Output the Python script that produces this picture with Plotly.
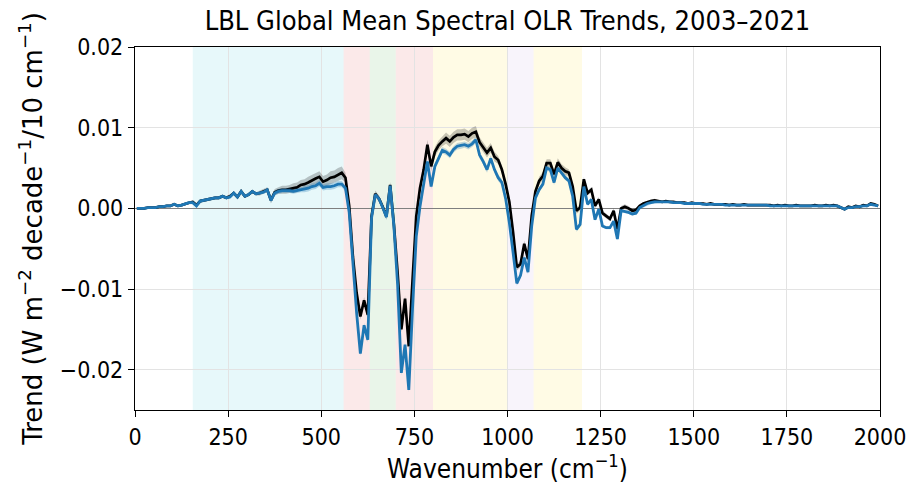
import numpy as np
import plotly.graph_objects as go

# Spectral bin centres (10 cm^-1 bins)
wavenumber = np.arange(5, 2000, 10)

# Global mean OLR trend per bin, in units of 1e-4 W m-2 decade-1 / 10 cm-1
total_trend = [
    0, 0, 0, 1, 1, 1, 2, 2, 3, 3,
    5, 3, 4, 6, 7, 8, 4, 9, 10, 11,
    12, 13, 13, 15, 13, 15, 19, 14, 21, 15,
    17, 21, 18, 19, 21, 23, 10, 20, 22, 23,
    23, 24, 25, 26, 29, 30, 32, 34, 37, 39,
    33, 35, 38, 39, 42, 44, 38, 3, -60, -105,
    -134, -114, -132, -10, 18, 12, 2, -10, 29, -20,
    -80, -150, -112, -171, -90, -10, 25, 48, 79, 52,
    70, 78, 83, 87, 83, 88, 91, 91, 92, 89,
    93, 95, 82, 76, 69, 75, 64, 60, 48, 30,
    8, -30, -73, -69, -44, -63, -9, 21, 34, 40,
    56, 56, 42, 57, 50, 46, 44, 27, -3, 1,
    36, 19, 23, 3, 11, -6, -10, -13, -3, -26,
    0, 2, 0, -3, -2, 3, 6, 8, 9, 10,
    9, 8, 9, 8, 8, 7, 7, 7, 6, 7,
    6, 6, 6, 5, 6, 5, 5, 5, 5, 4,
    5, 4, 4, 5, 4, 4, 4, 4, 4, 4,
    4, 3, 4, 3, 4, 3, 3, 4, 3, 3,
    3, 3, 4, 3, 3, 4, 3, 4, 3, 1,
    -1, 2, 1, 3, 2, 4, 3, 6, 5, 3,
]

second_trend = [
    0, 0, 0, 1, 1, 1, 2, 2, 3, 3,
    5, 3, 4, 6, 7, 7, 3, 9, 10, 11,
    12, 13, 13, 15, 13, 14, 19, 14, 21, 15,
    17, 21, 18, 19, 20, 23, 10, 19, 21, 22,
    22, 22, 21, 22, 23, 24, 25, 27, 28, 31,
    26, 27, 27, 28, 30, 30, 25, -5, -72, -130,
    -180, -145, -163, -12, 17, 12, 1, -11, 28, -22,
    -95, -204, -169, -225, -125, -35, 2, 32, 58, 27,
    52, 62, 72, 70, 66, 73, 77, 78, 79, 77,
    80, 85, 66, 58, 48, 62, 48, 38, 32, 12,
    -18, -55, -93, -83, -61, -79, -22, 13, 23, 30,
    50, 48, 32, 50, 44, 38, 34, 15, -26, -20,
    27, 5, 11, -14, -1, -22, -24, -24, -16, -38,
    -3, -4, -5, -7, -6, 1, 3, 6, 7, 8,
    8, 8, 8, 8, 7, 7, 7, 6, 6, 6,
    6, 6, 5, 5, 5, 5, 5, 5, 4, 4,
    4, 4, 4, 4, 4, 4, 4, 4, 4, 4,
    3, 3, 3, 3, 3, 3, 3, 3, 3, 3,
    3, 3, 3, 3, 3, 3, 3, 3, 3, 1,
    -1, 1, 1, 2, 2, 3, 3, 5, 4, 3,
]

# Half-width of the uncertainty range, same units
total_unc = [
    1, 1, 1, 1, 1, 1, 1, 1, 1, 1,
    1, 1, 1, 1, 2, 2, 2, 2, 2, 2,
    2, 2, 2, 2, 2, 2, 2, 2, 2, 2,
    2, 2, 2, 3, 3, 3, 4, 4, 4, 5,
    5, 5, 6, 6, 6, 6, 7, 7, 7, 7,
    7, 7, 8, 8, 8, 8, 6, 4, 4, 4,
    4, 4, 4, 4, 4, 4, 4, 4, 4, 4,
    4, 4, 4, 4, 4, 4, 5, 5, 6, 6,
    6, 6, 6, 7, 7, 7, 7, 7, 7, 7,
    7, 7, 6, 6, 6, 6, 6, 5, 5, 5,
    4, 4, 4, 4, 4, 4, 4, 4, 5, 5,
    5, 5, 5, 5, 5, 5, 4, 4, 4, 4,
    3, 3, 3, 3, 3, 3, 3, 3, 3, 3,
    3, 3, 3, 2, 2, 2, 2, 2, 2, 2,
    1, 1, 1, 1, 1, 1, 1, 1, 1, 1,
    1, 1, 1, 1, 1, 1, 1, 1, 1, 1,
    1, 1, 1, 1, 1, 1, 1, 1, 1, 1,
    1, 1, 1, 1, 1, 1, 1, 1, 1, 1,
    1, 1, 1, 1, 1, 1, 1, 1, 1, 1,
    1, 1, 1, 1, 1, 1, 1, 1, 1, 1,
]

second_unc = [
    1, 1, 1, 1, 1, 1, 1, 1, 1, 1,
    2, 2, 2, 2, 2, 2, 2, 2, 2, 2,
    2, 2, 2, 2, 2, 2, 2, 2, 2, 2,
    2, 2, 2, 2, 2, 2, 3, 3, 3, 3,
    3, 3, 3, 3, 3, 4, 4, 4, 4, 4,
    4, 4, 4, 4, 4, 4, 4, 3, 3, 3,
    3, 3, 3, 3, 3, 3, 3, 3, 3, 3,
    3, 3, 3, 3, 3, 3, 3, 3, 3, 3,
    4, 4, 4, 4, 4, 4, 4, 4, 4, 4,
    4, 4, 4, 4, 4, 4, 4, 4, 4, 4,
    3, 3, 3, 3, 3, 3, 3, 3, 3, 3,
    3, 3, 3, 3, 3, 3, 3, 3, 3, 3,
    2, 2, 2, 2, 2, 2, 2, 2, 2, 2,
    2, 2, 2, 2, 2, 2, 2, 2, 2, 2,
    1, 1, 1, 1, 1, 1, 1, 1, 1, 1,
    1, 1, 1, 1, 1, 1, 1, 1, 1, 1,
    1, 1, 1, 1, 1, 1, 1, 1, 1, 1,
    1, 1, 1, 1, 1, 1, 1, 1, 1, 1,
    1, 1, 1, 1, 1, 1, 1, 1, 1, 1,
    1, 1, 1, 1, 1, 1, 1, 1, 1, 1,
]

# Absorption-band regions (cm^-1) and their tint
band_edges = [(155, 560), (560, 630), (630, 700), (700, 800),
              (800, 1000), (1000, 1070), (1070, 1200)]
band_colors = ["rgba(23,190,207,0.10)", "rgba(214,39,40,0.10)",
               "rgba(44,160,44,0.10)", "rgba(214,39,40,0.10)",
               "rgba(255,215,0,0.10)", "rgba(160,110,210,0.08)",
               "rgba(255,215,0,0.10)"]

x_ticks = [0, 250, 500, 750, 1000, 1250, 1500, 1750, 2000]
y_ticks = [-0.02, -0.01, 0.0, 0.01, 0.02]

scale = 1e-4
tot = np.array(total_trend) * scale
sec = np.array(second_trend) * scale
tot_u = np.array(total_unc) * scale
sec_u = np.array(second_unc) * scale

fig = go.Figure()


def add_band(y_lo, y_hi, color):
    fig.add_trace(go.Scatter(x=wavenumber, y=y_hi, mode="lines",
                             line=dict(width=0), hoverinfo="skip",
                             showlegend=False))
    fig.add_trace(go.Scatter(x=wavenumber, y=y_lo, mode="lines",
                             line=dict(width=0), fill="tonexty",
                             fillcolor=color, hoverinfo="skip",
                             showlegend=False))


add_band(tot - tot_u, tot + tot_u, "rgba(0,0,0,0.22)")
fig.add_trace(go.Scatter(x=wavenumber, y=tot, mode="lines",
                         line=dict(color="black", width=2.7),
                         showlegend=False))
add_band(sec - sec_u, sec + sec_u, "rgba(31,119,180,0.28)")
fig.add_trace(go.Scatter(x=wavenumber, y=sec, mode="lines",
                         line=dict(color="#1f77b4", width=2.8),
                         showlegend=False))

for (b0, b1), col in zip(band_edges, band_colors):
    fig.add_shape(type="rect", xref="x", yref="paper", x0=b0, x1=b1,
                  y0=0, y1=1, fillcolor=col, line=dict(width=0),
                  layer="below")

narrow = "DejaVu Sans Condensed, DejaVu Sans"

axis_common = dict(showline=True, linecolor="black", linewidth=1.3,
                   mirror=True, ticks="outside", ticklen=6, tickwidth=1.3,
                   tickcolor="black", showgrid=True, gridcolor="#e3e3e3",
                   gridwidth=1,
                   tickfont=dict(size=23, color="black", family=narrow))

fig.update_layout(
    width=918, height=486,
    margin=dict(l=135, r=34, t=47, b=74),
    paper_bgcolor="white", plot_bgcolor="white",
    font=dict(family="DejaVu Sans", color="black"),
    title=dict(text="LBL Global Mean Spectral OLR Trends, 2003\u20132021",
               x=0.5, xref="paper", xanchor="center",
               y=1 - 21 / 486, yref="container", yanchor="middle",
               font=dict(size=27, family=narrow)),
    xaxis=dict(range=[0, 2000], tickvals=x_ticks,
               title=dict(text="Wavenumber (cm<sup>\u22121</sup>)",
                          font=dict(size=26, family=narrow), standoff=6),
               zeroline=False, **axis_common),
    yaxis=dict(range=[-0.025, 0.02], tickvals=y_ticks, tickformat=".2f",
               title=dict(text="Trend (W m<sup>\u22122</sup> decade<sup>\u22121</sup>/10 cm<sup>\u22121</sup>)",
                          font=dict(size=26), standoff=9),
               zeroline=True, zerolinecolor="#7f7f7f", zerolinewidth=1.3,
               **axis_common),
)

fig.write_html("out.html")
